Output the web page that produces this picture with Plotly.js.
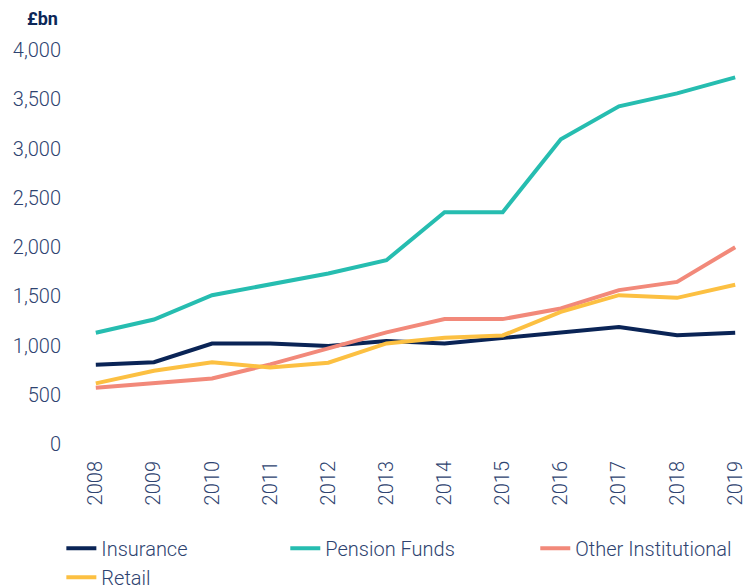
<!DOCTYPE html>
<html>
<head>
<meta charset="utf-8">
<script src="https://cdn.plot.ly/plotly-3.0.1.min.js"></script>
<style>html,body{margin:0;padding:0;background:#fff;}#chart{width:756px;height:585px;}</style>
</head>
<body>
<div id="chart"></div>
<script>
const years = ['2008','2009','2010','2011','2012','2013','2014','2015','2016','2017','2018','2019'];
const insurance = [805, 830, 1020, 1020, 995, 1045, 1020, 1078, 1133, 1187, 1105, 1130];
const pensionFunds = [1130, 1264, 1511, 1620, 1731, 1866, 2353, 2353, 3093, 3428, 3560, 3722];
const otherInstitutional = [571, 615, 666, 808, 970, 1133, 1268, 1268, 1376, 1562, 1646, 1998];
const retail = [615, 744, 829, 778, 825, 1021, 1078, 1102, 1342, 1511, 1484, 1616];
const yTicks = [0, 500, 1000, 1500, 2000, 2500, 3000, 3500, 4000];

const textColor = '#2e4370';
const font = {family: 'Roboto, "Open Sans", sans-serif', size: 20, weight: 300, color: textColor};

function tr(name, y, color, legend) {
  return {x: years, y: y, name: name, type: 'scatter', mode: 'lines',
    line: {color: color, width: 4}, legend: legend};
}

const data = [
  tr('Insurance', insurance, '#0a2456', 'legend'),
  tr('Pension Funds', pensionFunds, '#26bdb0', 'legend2'),
  tr('Other Institutional', otherInstitutional, '#f2897a', 'legend3'),
  tr('Retail', retail, '#fcc042', 'legend')
];

const legBase = {orientation: 'v', yanchor: 'top', xanchor: 'left', bgcolor: 'rgba(0,0,0,0)',
  font: font, itemwidth: 30, tracegroupgap: 0, traceorder: 'normal'};

const layout = {
  width: 756, height: 585,
  margin: {l: 90, r: 15, t: 50, b: 141, autoexpand: false},
  paper_bgcolor: '#fff', plot_bgcolor: '#fff',
  font: font,
  xaxis: {type: 'category', range: [-0.1, 11.1], showgrid: false, zeroline: false, showline: false,
    ticks: '', tickangle: -90, tickfont: font, ticklabelstandoff: 12, fixedrange: true},
  yaxis: {range: [0, 4000], tickvals: yTicks, ticktext: yTicks.map(v => v.toLocaleString('en-US')),
    showgrid: false, zeroline: false, showline: false, ticks: '', tickfont: font,
    ticklabelstandoff: 28, fixedrange: true},
  legend: Object.assign({}, legBase, {x: -0.044, y: -0.215}),
  legend2: Object.assign({}, legBase, {x: 0.3, y: -0.215}),
  legend3: Object.assign({}, legBase, {x: 0.684, y: -0.215}),
  annotations: [{text: '<b>£bn</b>', xref: 'paper', yref: 'paper', x: -0.046, y: 1.081,
    xanchor: 'right', yanchor: 'middle', showarrow: false,
    font: {family: 'Roboto, sans-serif', size: 18, color: '#0c2758'}}],
  showlegend: true
};

Plotly.newPlot('chart', data, layout, {displayModeBar: false, staticPlot: true});
</script>
</body>
</html>
